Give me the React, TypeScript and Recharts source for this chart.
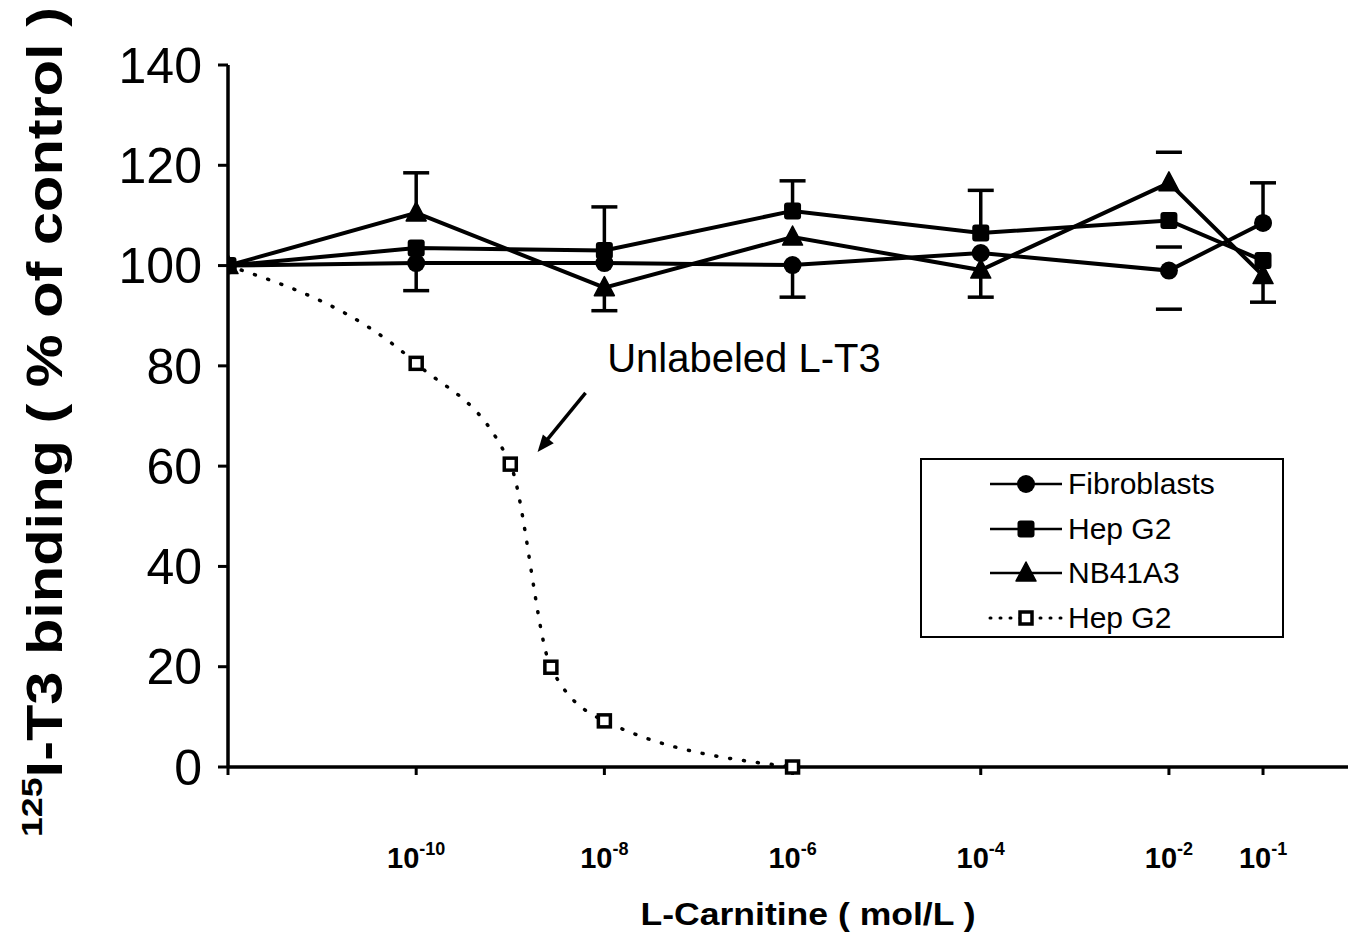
import React from 'react';
import {
  ComposedChart,
  Line,
  Scatter,
  XAxis,
  YAxis,
  ErrorBar,
  Legend,
  ReferenceLine,
  ReferenceDot,
} from 'recharts';

const FONT = '"Liberation Sans", Arial, Helvetica, sans-serif';

// L-Carnitine concentrations (mol/L); the first one stands for the control
const concentrations = [1e-12, 1e-10, 1e-8, 1e-6, 1e-4, 1e-2, 1e-1];

// 125I-T3 binding, % of control
const nb41a3Values = [100, 110.5, 95.6, 105.7, 99.1, 116.5, 98];
const hepG2Values = [100, 103.5, 103, 110.9, 106.5, 109, 101];
const fibroblastValues = [100, 100.5, 100.5, 100.1, 102.5, 99, 108.5];

// one-sided error bars: [below, above]
const nb41a3Err = [[0, 0], [0, 8], [4.6, 0], [0, 0], [5.4, 0], [0, 6.1], [5.3, 0]];
const hepG2Err = [[0, 0], [0, 0], [0, 8.7], [0, 6], [0, 8.5], [5.3, 0], [0, 0]];
const fibroblastErr = [[0, 0], [5.5, 0], [0, 0], [6.4, 0], [0, 0], [7.7, 0], [0, 8]];
// concentrations where only the caps of the error bars were printed
const capOnlyAt = [1e-2];

// competition with unlabeled L-T3 (Hep G2)
const unlabeledConc = [1e-12, 1e-10, 1e-9, 2.7e-9, 1e-8, 1e-6];
const unlabeledValues = [100, 80.5, 60.4, 19.9, 9.2, 0];

const xTicks = [1e-12, 1e-10, 1e-8, 1e-6, 1e-4, 1e-2, 1e-1];
const yTicks = [0, 20, 40, 60, 80, 100, 120, 140];

type Row = { x: number; y: number; stem: [number, number] | null };

const buildRows = (values: number[], errs: number[][]): Row[] =>
  concentrations.map((x, i) => {
    const [lo, hi] = errs[i];
    const hasErr = lo > 0 || hi > 0;
    return {
      x,
      y: values[i],
      stem: hasErr && !capOnlyAt.includes(x) ? [lo, hi] : null,
    };
  });

const buildCaps = (values: number[], errs: number[][]) => {
  const caps: { x: number; y: number }[] = [];
  concentrations.forEach((x, i) => {
    const [lo, hi] = errs[i];
    if (hi > 0) caps.push({ x, y: values[i] + hi });
    if (lo > 0) caps.push({ x, y: values[i] - lo });
  });
  return caps;
};

const nb41a3Rows = buildRows(nb41a3Values, nb41a3Err);
const hepG2Rows = buildRows(hepG2Values, hepG2Err);
const fibroblastRows = buildRows(fibroblastValues, fibroblastErr);
const capRows = [
  ...buildCaps(nb41a3Values, nb41a3Err),
  ...buildCaps(hepG2Values, hepG2Err),
  ...buildCaps(fibroblastValues, fibroblastErr),
];
const unlabeledRows = unlabeledConc.map((x, i) => ({ x, y: unlabeledValues[i] }));

type MarkerKind = 'circle' | 'square' | 'triangle' | 'openSquare';

const drawMarker = (kind: MarkerKind, cx: number, cy: number, key?: React.Key) => {
  if (cx == null || cy == null || Number.isNaN(cx) || Number.isNaN(cy)) return <g key={key} />;
  switch (kind) {
    case 'circle':
      return <circle key={key} cx={cx} cy={cy} r={9} fill="#000" />;
    case 'square':
      return <rect key={key} x={cx - 8.5} y={cy - 8.5} width={17} height={17} rx={3} fill="#000" />;
    case 'triangle':
      return (
        <polygon
          key={key}
          points={`${cx},${cy - 11} ${cx + 10},${cy + 8} ${cx - 10},${cy + 8}`}
          fill="#000"
          stroke="#000"
          strokeWidth={1.5}
          strokeLinejoin="round"
        />
      );
    default:
      return (
        <rect
          key={key}
          x={cx - 6}
          y={cy - 6}
          width={12}
          height={12}
          fill="#fff"
          stroke="#000"
          strokeWidth={3.5}
        />
      );
  }
};

const markerDot = (kind: MarkerKind) => (props: any) =>
  drawMarker(kind, props.cx, props.cy, `${kind}-${props.index}`);

const CapShape = (props: any) => {
  const { cx, cy } = props;
  if (cx == null || cy == null) return <g />;
  return <line x1={cx - 13} x2={cx + 13} y1={cy} y2={cy} stroke="#000" strokeWidth={3.5} />;
};

const XTick = (props: any) => {
  const { x, y, payload } = props;
  const v = payload.value as number;
  if (v <= 1e-12) return <g />;
  const exp = Math.round(Math.log10(v));
  return (
    <text
      x={x}
      y={y + 91}
      textAnchor="middle"
      fontFamily={FONT}
      fontWeight="bold"
      fontSize={29}
      fill="#000"
    >
      10
      <tspan dy={-13} fontSize={18}>
        {String(exp)}
      </tspan>
    </text>
  );
};

const YTitle = (props: any) => {
  const vb = props.viewBox || { x: 0, y: 65, width: 228, height: 702 };
  const cx = 62;
  const cy = vb.y + vb.height / 2 + 6;
  return (
    <text
      x={cx}
      y={cy}
      transform={`rotate(-90 ${cx} ${cy})`}
      textAnchor="middle"
      fontFamily={FONT}
      fontWeight="bold"
      fontSize={50}
      fill="#000"
      textLength={830}
      lengthAdjust="spacingAndGlyphs"
    >
      <tspan fontSize={30} dy={-20}>
        125
      </tspan>
      <tspan dy={20}>I-T3 binding ( % of control )</tspan>
    </text>
  );
};

const XTitle = (props: any) => {
  const vb = props.viewBox || { x: 228, y: 767, width: 1120, height: 170 };
  return (
    <text
      x={vb.x + vb.width / 2 + 20}
      y={vb.y + 158}
      textAnchor="middle"
      fontFamily={FONT}
      fontWeight="bold"
      fontSize={31}
      fill="#000"
      textLength={335}
      lengthAdjust="spacingAndGlyphs"
    >
      L-Carnitine ( mol/L )
    </text>
  );
};

const legendItems: { name: string; marker: MarkerKind; dotted: boolean }[] = [
  { name: 'Fibroblasts', marker: 'circle', dotted: false },
  { name: 'Hep G2', marker: 'square', dotted: false },
  { name: 'NB41A3', marker: 'triangle', dotted: false },
  { name: 'Hep G2', marker: 'openSquare', dotted: true },
];

const LegendBox = () => (
  <div
    style={{
      width: 364,
      height: 180,
      border: '2px solid #000',
      boxSizing: 'border-box',
      background: '#fff',
      paddingTop: 2,
      fontFamily: FONT,
    }}
  >
    {legendItems.map((item, i) => (
      <div
        key={i}
        style={{ display: 'flex', alignItems: 'center', height: 44.5, paddingLeft: 66 }}
      >
        <svg width={76} height={26} style={{ display: 'block' }}>
          <line
            x1={2}
            x2={74}
            y1={13}
            y2={13}
            stroke="#000"
            strokeWidth={item.dotted ? 3 : 2.5}
            strokeDasharray={item.dotted ? '1 9' : undefined}
            strokeLinecap={item.dotted ? 'round' : 'butt'}
          />
          {drawMarker(item.marker, 38, 13)}
        </svg>
        <span style={{ fontSize: 30, marginLeft: 4, color: '#000', lineHeight: 1 }}>
          {item.name}
        </span>
      </div>
    ))}
  </div>
);

const AnnotationText = (props: any) => {
  const { cx, cy } = props;
  if (cx == null) return <g />;
  return (
    <text x={cx} y={cy} fontFamily={FONT} fontSize={40} fill="#000" textAnchor="start">
      Unlabeled L-T3
    </text>
  );
};

// arrow head oriented along the arrow shaft
const ArrowHead = (props: any) => {
  const { cx, cy } = props;
  if (cx == null) return <g />;
  const ux = -0.632;
  const uy = 0.776;
  const len = 17;
  const half = 7;
  const bx = cx - ux * len;
  const by = cy - uy * len;
  const px = uy;
  const py = -ux;
  return (
    <polygon
      points={`${cx},${cy} ${bx + px * half},${by + py * half} ${bx - px * half},${by - py * half}`}
      fill="#000"
    />
  );
};

const arrowTail = { x: Math.pow(10, -8.2), y: 74.6 };
const arrowTip = { x: Math.pow(10, -8.71), y: 62.8 };
const arrowShaftEnd = { x: Math.pow(10, -8.62), y: 65 };
const annotationAnchor = { x: Math.pow(10, -7.97), y: 78.8 };

export default function App() {
  return (
    <div style={{ position: 'absolute', left: 0, top: 0, background: '#fff' }}>
      <ComposedChart
        width={1348}
        height={937}
        margin={{ top: 65, right: 0, bottom: 0, left: 0 }}
      >
        <XAxis
          dataKey="x"
          type="number"
          scale="log"
          domain={[1e-12, 0.8]}
          allowDataOverflow
          ticks={xTicks}
          height={170}
          tick={<XTick />}
          tickSize={8}
          axisLine={{ stroke: '#000', strokeWidth: 3.5 }}
          tickLine={{ stroke: '#000', strokeWidth: 3 }}
          label={{ content: <XTitle /> } as any}
        />
        <YAxis
          type="number"
          domain={[0, 140]}
          ticks={yTicks}
          width={228}
          tickSize={10}
          tickMargin={16}
          tick={{ fontSize: 50, fill: '#000', fontFamily: FONT }}
          axisLine={{ stroke: '#000', strokeWidth: 3.5 }}
          tickLine={{ stroke: '#000', strokeWidth: 3 }}
          label={{ content: <YTitle /> } as any}
        />

        <Line
          data={unlabeledRows}
          dataKey="y"
          name="Hep G2 (unlabeled L-T3)"
          type="monotone"
          stroke="#000"
          strokeWidth={3.5}
          strokeDasharray="1 13"
          strokeLinecap="round"
          dot={markerDot('openSquare')}
          activeDot={false}
          isAnimationActive={false}
          legendType="none"
        />
        <Line
          data={fibroblastRows}
          dataKey="y"
          name="Fibroblasts"
          type="linear"
          stroke="#000"
          strokeWidth={4}
          dot={markerDot('circle')}
          activeDot={false}
          isAnimationActive={false}
        >
          <ErrorBar dataKey="stem" direction="y" width={0} stroke="#000" strokeWidth={3.5} />
        </Line>
        <Line
          data={hepG2Rows}
          dataKey="y"
          name="Hep G2"
          type="linear"
          stroke="#000"
          strokeWidth={4}
          dot={markerDot('square')}
          activeDot={false}
          isAnimationActive={false}
        >
          <ErrorBar dataKey="stem" direction="y" width={0} stroke="#000" strokeWidth={3.5} />
        </Line>
        <Line
          data={nb41a3Rows}
          dataKey="y"
          name="NB41A3"
          type="linear"
          stroke="#000"
          strokeWidth={4}
          dot={markerDot('triangle')}
          activeDot={false}
          isAnimationActive={false}
        >
          <ErrorBar dataKey="stem" direction="y" width={0} stroke="#000" strokeWidth={3.5} />
        </Line>
        <Scatter
          data={capRows}
          dataKey="y"
          shape={CapShape}
          isAnimationActive={false}
          legendType="none"
        />

        <ReferenceLine
          segment={[arrowTail, arrowShaftEnd]}
          stroke="#000"
          strokeWidth={3.5}
          ifOverflow="visible"
        />
        <ReferenceDot
          x={arrowTip.x}
          y={arrowTip.y}
          shape={ArrowHead}
          ifOverflow="visible"
        />
        <ReferenceDot
          x={annotationAnchor.x}
          y={annotationAnchor.y}
          shape={AnnotationText}
          ifOverflow="visible"
        />

        <Legend
          layout="vertical"
          align="center"
          verticalAlign="middle"
          content={<LegendBox />}
          wrapperStyle={{ position: 'absolute', left: 920, top: 458, width: 364, height: 180 }}
        />
      </ComposedChart>
    </div>
  );
}
